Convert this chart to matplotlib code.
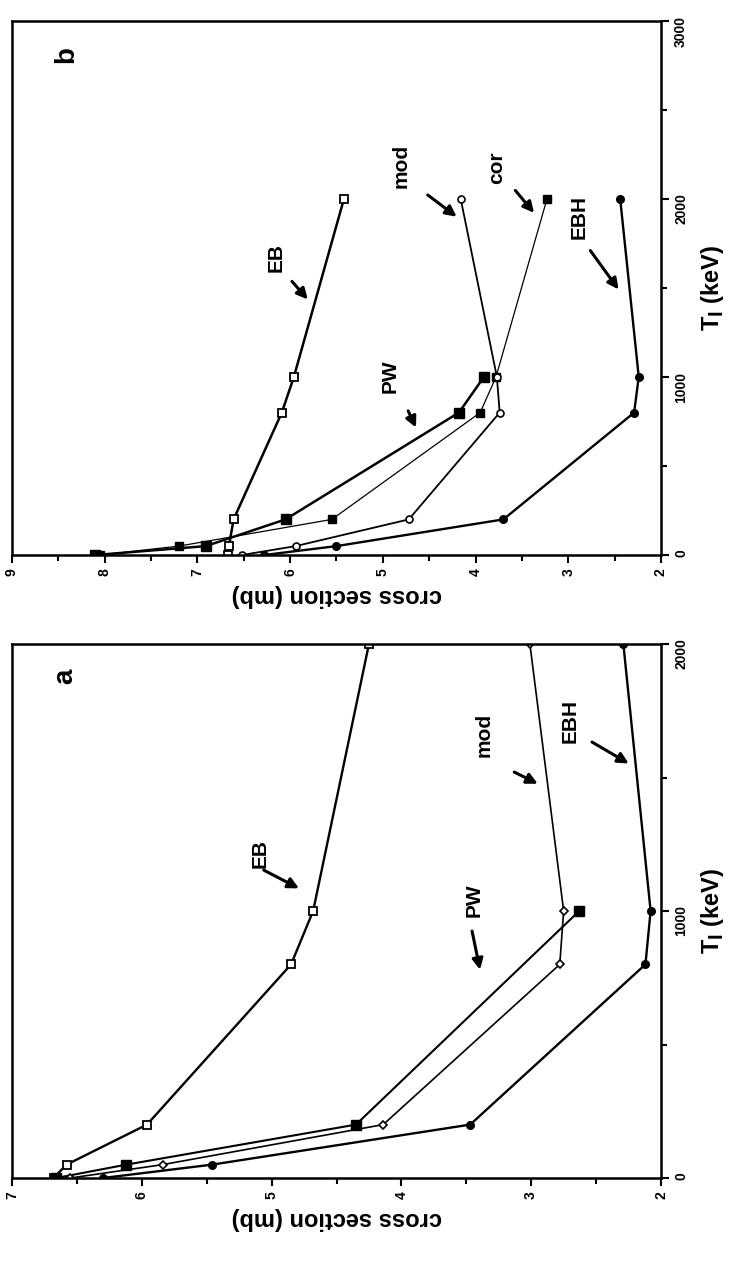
import matplotlib
matplotlib.use('Agg')
import matplotlib.pyplot as plt
from matplotlib.ticker import MultipleLocator

plt.rcParams['font.family'] = ['Liberation Sans', 'DejaVu Sans']
plt.rcParams['font.weight'] = 'bold'

# panel a  (T in keV, cross section in mb)
Ta = [0, 50, 200, 800, 1000, 2000]
Ta_pw = [0, 50, 200, 1000]
eb_a = [6.68, 6.58, 5.96, 4.85, 4.68, 4.25]
pw_a = [6.66, 6.12, 4.35, 2.63]
mod_a = [6.55, 5.84, 4.14, 2.78, 2.75, 3.01]
ebh_a = [6.30, 5.46, 3.47, 2.12, 2.08, 2.29]

# panel b
Tb = [0, 50, 200, 800, 1000, 2000]
Tb_pw = [0, 50, 200, 800, 1000]
eb_b = [6.67, 6.66, 6.61, 6.09, 5.96, 5.42]
pw_b = [8.10, 6.91, 6.05, 4.18, 3.91]
cor_b = [8.05, 7.20, 5.55, 3.95, 3.78, 3.23]
mod_b = [6.52, 5.94, 4.72, 3.74, 3.77, 4.16]
ebh_b = [6.28, 5.50, 3.70, 2.29, 2.24, 2.44]

# annotations: label, label pos (mb, T), arrow tail, arrow head
notes_a = [('EB', (5.09, 1215), (5.08, 1158), (4.77, 1080)),
           ('PW', (3.44, 1040), (3.46, 935), (3.39, 770)),
           ('mod', (3.36, 1660), (3.15, 1525), (2.93, 1472)),
           ('EBH', (2.70, 1713), (2.55, 1638), (2.23, 1547))]
notes_b = [('EB', (6.15, 1674), (6.00, 1549), (5.79, 1424)),
           ('PW', (4.92, 1002), (4.74, 824), (4.63, 702)),
           ('mod', (4.80, 2187), (4.54, 2032), (4.18, 1891)),
           ('cor', (3.77, 2175), (3.59, 2060), (3.35, 1910)),
           ('EBH', (2.88, 1900), (2.78, 1723), (2.44, 1479))]

W, H = 734, 1273
fig = plt.figure(figsize=(W / 100, H / 100), dpi=100)
axb = fig.add_axes([12 / W, 1 - 555 / H, 649 / W, 534 / H])
axa = fig.add_axes([12 / W, 1 - 1178 / H, 649 / W, 534 / H])


def style(ax, xmax, tmax):
    ax.set_xlim(xmax, 2)
    ax.set_ylim(0, tmax)
    ax.xaxis.set_major_locator(MultipleLocator(1))
    ax.xaxis.set_minor_locator(MultipleLocator(0.5))
    ax.yaxis.set_major_locator(MultipleLocator(1000))
    ax.yaxis.set_minor_locator(MultipleLocator(500))
    ax.yaxis.tick_right()
    ax.yaxis.set_label_position('right')
    ax.tick_params(which='both', direction='out', width=1.5, labelsize=10)
    ax.tick_params(which='major', length=6)
    ax.tick_params(which='minor', length=4)
    ax.tick_params(axis='both', labelrotation=90)
    for s in ax.spines.values():
        s.set_linewidth(1.8)
    ax.set_xlabel('cross section (mb)', rotation=180, fontsize=17,
                  fontweight='bold', labelpad=6)
    ax.set_ylabel(r'T$_\mathbf{l}$ (keV)', rotation=90, fontsize=17,
                  fontweight='bold', labelpad=8)


def notes(ax, items):
    for lab, pos, tail, head in items:
        ax.text(pos[0], pos[1], lab, rotation=90, fontsize=15,
                fontweight='bold', ha='center', va='center')
        ax.annotate('', xy=head, xytext=tail,
                    arrowprops=dict(arrowstyle='-|>', lw=2.2, color='black',
                                    mutation_scale=16))


# panel a
axa.plot(eb_a, Ta, color='black', lw=1.7, marker='s', ms=6, mfc='white', mew=1.3)
axa.plot(pw_a, Ta_pw, color='black', lw=1.5, marker='s', ms=6.5, mfc='black')
axa.plot(mod_a, Ta, color='black', lw=1.2, marker='D', ms=4.5, mfc='white', mew=1.2)
axa.plot(ebh_a, Ta, color='black', lw=1.7, marker='o', ms=5.5, mfc='black')
style(axa, 7, 2000)
notes(axa, notes_a)
axa.text(6.59, 1880, 'a', rotation=90, fontsize=20, fontweight='bold',
         ha='center', va='center')

# panel b
axb.plot(eb_b, Tb, color='black', lw=1.8, marker='s', ms=6, mfc='white', mew=1.3)
axb.plot(pw_b, Tb_pw, color='black', lw=1.8, marker='s', ms=6.5, mfc='black')
axb.plot(cor_b, Tb, color='black', lw=0.9, marker='s', ms=6, mfc='black')
axb.plot(mod_b, Tb, color='black', lw=1.3, marker='o', ms=5, mfc='white', mew=1.2)
axb.plot(ebh_b, Tb, color='black', lw=1.7, marker='o', ms=5.5, mfc='black')
style(axb, 9, 3000)
notes(axb, notes_b)
axb.text(8.42, 2810, 'b', rotation=90, fontsize=20, fontweight='bold',
         ha='center', va='center')

fig.savefig('out.png', dpi=100, facecolor='white')
